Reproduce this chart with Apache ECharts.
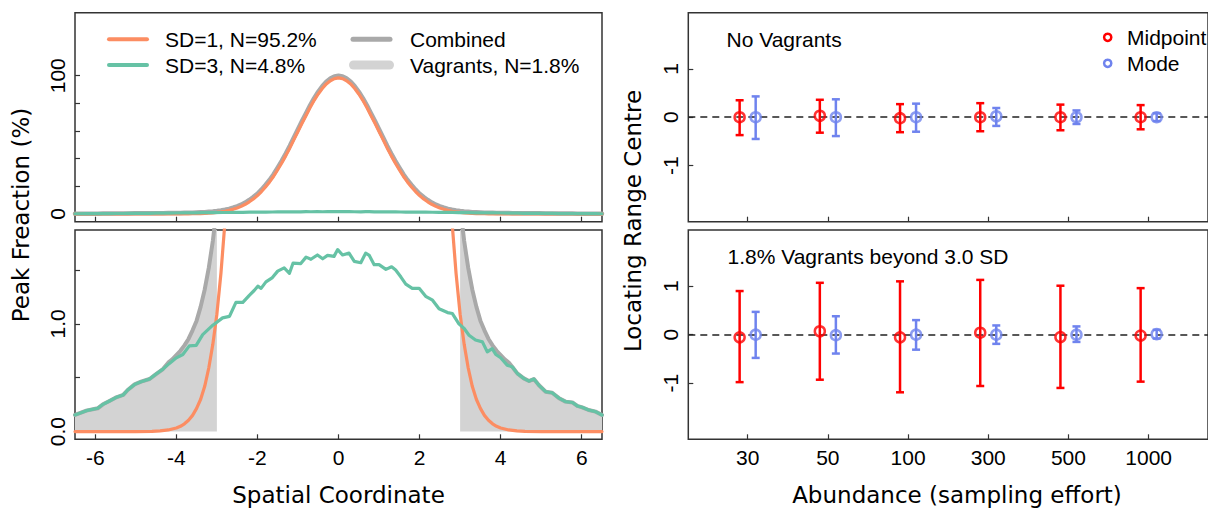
<!DOCTYPE html>
<html><head><meta charset="utf-8">
<script src="https://cdn.jsdelivr.net/npm/echarts@6/dist/echarts.min.js"></script>
<style>html,body{margin:0;padding:0;background:#fff}#c{width:1208px;height:508px}</style>
</head><body><div id="c"></div>
<script>
// ---------- DATA ----------
// Left panels: spatial coordinate vs peak fraction (%)
const orangeSD1 = [
 [-6.5,0],[-6,0],[-5.5,0],[-5,0],[-4.6,0.002],[-4.4,0.006],[-4.2,0.015],[-4.0,0.033],[-3.9,0.049],[-3.8,0.072],
 [-3.7,0.105],[-3.6,0.15],[-3.5,0.215],[-3.4,0.30],[-3.3,0.42],[-3.2,0.59],[-3.1,0.81],[-3.0,1.09],[-2.9,1.47],
 [-2.8,1.95],[-2.7,2.56],[-2.6,3.34],[-2.5,4.3],[-2.4,5.5],[-2.3,7.0],[-2.2,8.8],[-2.1,10.9],[-2.0,13.3],
 [-1.9,16.2],[-1.8,19.6],[-1.7,23.2],[-1.6,27.3],[-1.5,32.0],[-1.4,36.9],[-1.3,42.2],[-1.2,47.8],[-1.1,53.8],
 [-1.0,59.7],[-0.9,65.6],[-0.8,71.3],[-0.7,77.0],[-0.6,82.2],[-0.5,86.8],[-0.4,90.8],[-0.3,94.1],[-0.2,96.4],
 [-0.1,97.9],[0,98.4],[0.1,97.9],[0.2,96.4],[0.3,94.1],[0.4,90.8],[0.5,86.8],[0.6,82.2],[0.7,77.0],[0.8,71.3],
 [0.9,65.6],[1.0,59.7],[1.1,53.8],[1.2,47.8],[1.3,42.2],[1.4,36.9],[1.5,32.0],[1.6,27.3],[1.7,23.2],[1.8,19.6],
 [1.9,16.2],[2.0,13.3],[2.1,10.9],[2.2,8.8],[2.3,7.0],[2.4,5.5],[2.5,4.3],[2.6,3.34],[2.7,2.56],[2.8,1.95],
 [2.9,1.47],[3.0,1.09],[3.1,0.81],[3.2,0.59],[3.3,0.42],[3.4,0.30],[3.5,0.215],[3.6,0.15],[3.7,0.105],[3.8,0.072],
 [3.9,0.049],[4.0,0.033],[4.2,0.015],[4.4,0.006],[4.6,0.002],[5,0],[5.5,0],[6,0],[6.5,0]
];
const greenSD3 = [
 [-6.5,0.154],[-6.22,0.194],[-5.94,0.216],[-5.81,0.253],[-5.65,0.284],[-5.48,0.318],[-5.31,0.34],[-5.2,0.386],
 [-5.03,0.438],[-4.87,0.463],[-4.66,0.488],[-4.5,0.534],[-4.33,0.58],[-4.17,0.633],[-4.0,0.685],[-3.84,0.716],
 [-3.68,0.796],[-3.51,0.80],[-3.35,0.90],[-3.1,0.988],[-2.86,1.056],[-2.69,1.07],[-2.53,1.2],[-2.36,1.2],
 [-2.2,1.265],[-2.08,1.31],[-1.99,1.35],[-1.91,1.33],[-1.79,1.39],[-1.63,1.43],[-1.5,1.49],[-1.34,1.52],
 [-1.21,1.47],[-1.12,1.565],[-0.93,1.56],[-0.8,1.62],[-0.68,1.6],[-0.52,1.64],[-0.39,1.605],[-0.27,1.636],
 [-0.11,1.627],[-0.02,1.69],[0.1,1.64],[0.26,1.657],[0.39,1.58],[0.55,1.568],[0.67,1.657],[0.76,1.636],
 [0.88,1.55],[1.0,1.55],[1.17,1.506],[1.31,1.53],[1.41,1.5],[1.54,1.435],[1.66,1.37],[1.82,1.33],[1.99,1.33],
 [2.15,1.256],[2.32,1.22],[2.48,1.14],[2.69,1.105],[2.81,1.096],[2.97,1.0],[3.1,0.957],[3.22,0.895],[3.38,0.85],
 [3.55,0.833],[3.67,0.74],[3.79,0.77],[3.88,0.716],[4.0,0.685],[4.16,0.617],[4.29,0.6],[4.41,0.54],[4.57,0.494],
 [4.7,0.469],[4.82,0.488],[4.94,0.432],[5.11,0.37],[5.27,0.36],[5.44,0.31],[5.6,0.278],[5.77,0.27],[5.89,0.238],
 [6.01,0.225],[6.17,0.2],[6.34,0.185],[6.5,0.154]
];
// combined curve where it differs from the SD=3 curve
const combinedInner = [
 [-4.2,0.64],[-4.1,0.67],[-4.0,0.71],[-3.9,0.75],[-3.8,0.80],[-3.7,0.86],[-3.6,0.94],[-3.5,1.03],[-3.4,1.16],
 [-3.3,1.32],[-3.2,1.52],[-3.1,1.77],[-3.0,2.09],[-2.9,2.51],[-2.8,3.02],[-2.7,3.66],[-2.6,4.5],[-2.5,5.5],
 [-2.4,6.7],[-2.3,8.2],[-2.2,10.1],[-2.1,12.2],[-2.0,14.6],[-1.9,17.6],[-1.8,21.0],[-1.7,24.6],[-1.6,28.7],
 [-1.5,33.5],[-1.4,38.4],[-1.3,43.7],[-1.2,49.3],[-1.1,55.3],[-1.0,61.3],[-0.9,67.2],[-0.8,72.9],[-0.7,78.6],
 [-0.6,83.8],[-0.5,88.4],[-0.4,92.4],[-0.3,95.7],[-0.2,98.0],[-0.1,99.5],[0,100.0],[0.1,99.5],[0.2,98.0],
 [0.3,95.7],[0.4,92.4],[0.5,88.4],[0.6,83.8],[0.7,78.6],[0.8,72.9],[0.9,67.2],[1.0,61.3],[1.1,55.3],[1.2,49.3],
 [1.3,43.7],[1.4,38.4],[1.5,33.5],[1.6,28.7],[1.7,24.6],[1.8,21.0],[1.9,17.6],[2.0,14.6],[2.1,12.2],[2.2,10.1],
 [2.3,8.2],[2.4,6.7],[2.5,5.5],[2.6,4.5],[2.7,3.66],[2.8,3.02],[2.9,2.51],[3.0,2.09],[3.1,1.77],[3.2,1.52],
 [3.3,1.32],[3.4,1.16],[3.5,1.03],[3.6,0.94],[3.7,0.86],[3.8,0.80],[3.9,0.75],[4.0,0.71],[4.1,0.67],[4.2,0.64]
];
const vagrantCut = 3.0;
const spatialTicks = [-6,-4,-2,0,2,4,6];
const topTicks = [0,20,40,60,80,100];
const topLabels = [0,100];
const bottomTicks = [0,0.5,1,1.5];
const bottomLabels = [0,1];

// Right panels: abundance vs locating range centre
const abundance = ['30','50','100','300','500','1000'];
const noVagMid   = [0, 0.03, -0.02, 0, 0, 0];
const noVagMidLo = [-0.37, -0.32, -0.31, -0.29, -0.27, -0.25];
const noVagMidHi = [0.35, 0.36, 0.27, 0.29, 0.26, 0.25];
const noVagMode   = [0, 0, 0, 0.02, 0, 0];
const noVagModeLo = [-0.45, -0.39, -0.30, -0.18, -0.14, -0.08];
const noVagModeHi = [0.43, 0.37, 0.28, 0.19, 0.14, 0.08];
const vagMid   = [-0.055, 0.07, -0.055, 0.04, -0.05, -0.02];
const vagMidLo = [-0.98, -0.93, -1.19, -1.06, -1.10, -0.97];
const vagMidHi = [0.90, 1.07, 1.10, 1.13, 1.01, 0.96];
const vagMode   = [0, -0.01, 0, 0, 0, 0.01];
const vagModeLo = [-0.48, -0.39, -0.31, -0.19, -0.15, -0.08];
const vagModeHi = [0.47, 0.38, 0.30, 0.19, 0.17, 0.10];
const centreTicks = [-1,0,1];

// ---------- BUILD ----------
const ORANGE='#fc8d62', GREEN='#66c2a5', GRAY='#a9a9a9', LGRAY='#d3d3d3', RED='#ff0000', BLUE='#6f83ee';
const TICKFONT = {fontFamily:'Liberation Sans', fontSize:21, color:'#000'};
const TITLEFONT = 'DejaVu Sans';

const combinedFull = greenSD3.filter(p=>p[0] < -4.25)
  .concat(combinedInner, greenSD3.filter(p=>p[0] > 4.25));
const vagLeft = combinedFull.filter(p=>p[0] <= -vagrantCut);
const vagRight = combinedFull.filter(p=>p[0] >= vagrantCut);

const L = 75, W = 527, R0 = 688.3, RW = 527.2;
const T1 = 12.7, H1 = 209, T2 = 230, H2 = 209.3;

const tickStyle = {show:true, inside:true, length:5, lineStyle:{color:'#333', width:1.2}};
const noLine = {show:false, onZero:false};
function xAxisLeft(idx, labels){
  return {type:'value', gridIndex:idx, min:-6.5, max:6.5, position:'bottom',
    axisLine:noLine, splitLine:{show:false},
    axisTick:Object.assign({customValues:spatialTicks}, tickStyle),
    axisLabel:{show:labels, customValues:spatialTicks, margin:8, ...TICKFONT}};
}
function xAxisRight(idx, labels){
  return {type:'value', gridIndex:idx, min:0.26, max:6.74, position:'bottom',
    axisLine:noLine, splitLine:{show:false},
    axisTick:Object.assign({customValues:[1,2,3,4,5,6]}, tickStyle),
    axisLabel:{show:labels, customValues:[1,2,3,4,5,6], margin:8, ...TICKFONT,
      formatter:v=>abundance[Math.round(v)-1]}};
}
function yAxis(idx, min, max, ticks, labels, fmt){
  return {type:'value', gridIndex:idx, min, max, position:'left',
    axisLine:noLine, splitLine:{show:false},
    axisTick:Object.assign({customValues:ticks}, tickStyle),
    axisLabel:{customValues:labels, rotate:90, margin:7, ...TICKFONT, formatter:fmt}};
}
function lineS(name, data, xi, color, width, z){
  return {type:'line', name, data, xAxisIndex:xi, yAxisIndex:xi, symbol:'none', showSymbol:false,
    lineStyle:{color, width, cap:'round', join:'round'}, itemStyle:{color}, z, clip:true, silent:true};
}
function areaS(name, data, xi){
  return {type:'line', name, data, xAxisIndex:xi, yAxisIndex:xi, symbol:'none', showSymbol:false,
    lineStyle:{width:0}, itemStyle:{color:LGRAY}, areaStyle:{color:LGRAY, opacity:1}, z:1, clip:true, silent:true};
}
function errS(name, idx, color, offset, c, lo, hi){
  return {type:'custom', name, xAxisIndex:idx, yAxisIndex:idx, z:5, silent:true,
    data:c.map((v,i)=>[i+1+offset, v, lo[i], hi[i]]),
    encode:{x:0, y:[1,2,3]},
    renderItem(params, api){
      const x = api.value(0);
      const pl = api.coord([x, api.value(2)]), ph = api.coord([x, api.value(3)]);
      const w = 4, st = {stroke:color, lineWidth:2.5};
      return {type:'group', children:[
        {type:'line', shape:{x1:pl[0],y1:pl[1],x2:ph[0],y2:ph[1]}, style:st},
        {type:'line', shape:{x1:pl[0]-w,y1:pl[1],x2:pl[0]+w,y2:pl[1]}, style:st},
        {type:'line', shape:{x1:ph[0]-w,y1:ph[1],x2:ph[0]+w,y2:ph[1]}, style:st}
      ]};
    }};
}
function ptS(name, idx, color, offset, c, withZero){
  const s = {type:'scatter', name, xAxisIndex:idx, yAxisIndex:idx, z:6, silent:true,
    data:c.map((v,i)=>[i+1+offset, v]), symbol:'circle', symbolSize:10,
    itemStyle:{color:'rgba(255,255,255,0)', borderColor:color, borderWidth:2.5}};
  if (withZero) s.markLine = {silent:true, symbol:['none','none'], label:{show:false}, z:4,
    lineStyle:{type:[7,5], color:'#222', width:1.5}, data:[{yAxis:0}]};
  return s;
}

const txt = (x,y,text,opt={}) => ({type:'text', x, y, z:100, silent:true, rotation:opt.rot||0,
  style:{text, fill:'#000', font:(opt.size||21)+'px "'+(opt.family||'Liberation Sans')+'"',
    textAlign:opt.align||'left', textVerticalAlign:'middle'}});
const seg = (x1,x2,y,color,w) => ({type:'line', z:100, silent:true,
  shape:{x1, y1:y, x2, y2:y}, style:{stroke:color, lineWidth:w, lineCap:'round'}});
const ring = (cx,cy,color) => ({type:'circle', z:100, silent:true,
  shape:{cx, cy, r:3.6}, style:{fill:'none', stroke:color, lineWidth:2.5}});

const gridStyle = {show:true, borderColor:'#333', borderWidth:1.5, backgroundColor:'transparent', containLabel:false};
const option = {
  animation:false,
  backgroundColor:'#fff',
  grid:[
    Object.assign({left:L, top:T1, width:W, height:H1}, gridStyle),
    Object.assign({left:L, top:T2, width:W, height:H2}, gridStyle),
    Object.assign({left:R0, top:T1, width:RW, height:H1}, gridStyle),
    Object.assign({left:R0, top:T2, width:RW, height:H2}, gridStyle)
  ],
  xAxis:[xAxisLeft(0,false), xAxisLeft(1,true), xAxisRight(2,false), xAxisRight(3,true)],
  yAxis:[
    yAxis(0, -5.6, 145.6, topTicks, topLabels, v=>String(v)),
    yAxis(1, -0.072, 1.872, bottomTicks, bottomLabels, v=>v.toFixed(1)),
    yAxis(2, -2.16, 2.16, centreTicks, centreTicks, v=>String(v)),
    yAxis(3, -2.16, 2.16, centreTicks, centreTicks, v=>String(v))
  ],
  series:[
    lineS('Combined', combinedFull, 0, GRAY, 4.5, 2),
    lineS('SD=1, N=95.2%', orangeSD1, 0, ORANGE, 3.2, 3),
    lineS('SD=3, N=4.8%', greenSD3, 0, GREEN, 3.2, 4),
    areaS('Vagrants, N=1.8%', vagLeft, 1),
    areaS('Vagrants, N=1.8%', vagRight, 1),
    lineS('Combined', combinedFull, 1, GRAY, 4, 2),
    lineS('SD=1, N=95.2%', orangeSD1, 1, ORANGE, 3.2, 3),
    lineS('SD=3, N=4.8%', greenSD3, 1, GREEN, 3.2, 4),
    errS('Midpoint', 2, RED, -0.1, noVagMid, noVagMidLo, noVagMidHi),
    errS('Mode', 2, BLUE, 0.1, noVagMode, noVagModeLo, noVagModeHi),
    ptS('Midpoint', 2, RED, -0.1, noVagMid, true),
    ptS('Mode', 2, BLUE, 0.1, noVagMode, false),
    errS('Midpoint', 3, RED, -0.1, vagMid, vagMidLo, vagMidHi),
    errS('Mode', 3, BLUE, 0.1, vagMode, vagModeLo, vagModeHi),
    ptS('Midpoint', 3, RED, -0.1, vagMid, true),
    ptS('Mode', 3, BLUE, 0.1, vagMode, false)
  ],
  graphic:[
    // left legend
    seg(109,147,39.3,ORANGE,4), txt(165,39.3,'SD=1, N=95.2%'),
    seg(109,147,65,GREEN,4), txt(165,65,'SD=3, N=4.8%'),
    seg(353,390,39.3,GRAY,5), txt(410,39.3,'Combined'),
    seg(353.5,389.5,65,LGRAY,9), txt(410,65,'Vagrants, N=1.8%'),
    // right legend
    ring(1107.7,37.3,RED), txt(1127,37.3,'Midpoint'),
    ring(1107.7,63.3,BLUE), txt(1127,63.3,'Mode'),
    // panel notes
    txt(726.5,39.2,'No Vagrants'),
    txt(727.5,256.7,'1.8% Vagrants beyond 3.0 SD'),
    // axis titles
    txt(338.5,495,'Spatial Coordinate',{size:23,family:TITLEFONT,align:'center'}),
    txt(957,495,'Abundance (sampling effort)',{size:23,family:TITLEFONT,align:'center'}),
    txt(21,215,'Peak Freaction (%)',{size:23,family:TITLEFONT,align:'center',rot:Math.PI/2}),
    txt(633,221,'Locating Range Centre',{size:23,family:TITLEFONT,align:'center',rot:Math.PI/2})
  ]
};
const chart = echarts.init(document.getElementById('c'), null, {renderer:'svg', width:1208, height:508});
chart.setOption(option);
</script></body></html>
